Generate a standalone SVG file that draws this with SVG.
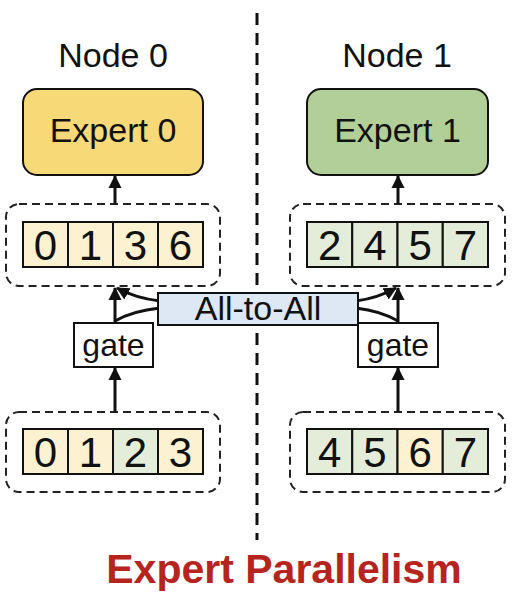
<svg xmlns="http://www.w3.org/2000/svg" width="512" height="603" viewBox="0 0 512 603">
<style>
text{font-family:"Liberation Sans",Arial,sans-serif;fill:#111;text-anchor:middle}
.lbl{font-size:34px}
.dig{font-size:42px}
.gate{font-size:32px}
.cell{stroke:#111;stroke-width:2}
.y{fill:#FCF2D2}
.g{fill:#E4EDD9}
.dash{fill:none;stroke:#222;stroke-width:2;stroke-dasharray:8 5}
.arr{fill:none;stroke:#111;stroke-width:3;marker-end:url(#ah)}
.ln{fill:none;stroke:#111;stroke-width:3}
</style>
<defs>
<marker id="ah" markerUnits="userSpaceOnUse" markerWidth="14" markerHeight="14" viewBox="0 0 14 14" refX="12" refY="7" orient="auto">
<path d="M0,0.5 L13,7 L0,13.5 Z" fill="#111"/>
</marker>
</defs>
<line x1="257" y1="13" x2="257" y2="540" stroke="#111" stroke-width="3" stroke-dasharray="12 8"/>
<g id="title0"><text class="lbl" x="113" y="67">Node 0</text></g>
<g id="title1"><text class="lbl" x="397" y="67">Node 1</text></g>
<g id="expert0"><rect x="23" y="89" width="180" height="86" rx="14" fill="#F8D978" stroke="#111" stroke-width="2"/><text class="lbl" x="113" y="142">Expert 0</text></g>
<g id="expert1"><rect x="307" y="89" width="181" height="86" rx="14" fill="#B2CF98" stroke="#111" stroke-width="2"/><text class="lbl" x="397.5" y="142">Expert 1</text></g>
<g id="recv0">
<rect class="dash" x="6" y="204" width="214" height="82" rx="13"/>
<rect class="cell y" x="23" y="222" width="45" height="45"/><text class="dig" x="45.5" y="259.5">0</text>
<rect class="cell y" x="68" y="222" width="45" height="45"/><text class="dig" x="90.5" y="259.5">1</text>
<rect class="cell y" x="113" y="222" width="45" height="45"/><text class="dig" x="135.5" y="259.5">3</text>
<rect class="cell y" x="158" y="222" width="45" height="45"/><text class="dig" x="180.5" y="259.5">6</text>
</g>
<g id="recv1">
<rect class="dash" x="290" y="204" width="215" height="82" rx="13"/>
<rect class="cell g" x="307" y="222" width="45.25" height="45"/><text class="dig" x="329.6" y="259.5">2</text>
<rect class="cell g" x="352.25" y="222" width="45.25" height="45"/><text class="dig" x="374.9" y="259.5">4</text>
<rect class="cell g" x="397.5" y="222" width="45.25" height="45"/><text class="dig" x="420.1" y="259.5">5</text>
<rect class="cell g" x="442.75" y="222" width="45.25" height="45"/><text class="dig" x="465.4" y="259.5">7</text>
</g>
<g id="input0">
<rect class="dash" x="6" y="412" width="214" height="80" rx="13"/>
<rect class="cell y" x="23" y="429" width="45" height="45"/><text class="dig" x="45.5" y="466.5">0</text>
<rect class="cell y" x="68" y="429" width="45" height="45"/><text class="dig" x="90.5" y="466.5">1</text>
<rect class="cell g" x="113" y="429" width="45" height="45"/><text class="dig" x="135.5" y="466.5">2</text>
<rect class="cell y" x="158" y="429" width="45" height="45"/><text class="dig" x="180.5" y="466.5">3</text>
</g>
<g id="input1">
<rect class="dash" x="290" y="412" width="215" height="80" rx="13"/>
<rect class="cell g" x="307" y="429" width="45.25" height="45"/><text class="dig" x="329.6" y="466.5">4</text>
<rect class="cell g" x="352.25" y="429" width="45.25" height="45"/><text class="dig" x="374.9" y="466.5">5</text>
<rect class="cell y" x="397.5" y="429" width="45.25" height="45"/><text class="dig" x="420.1" y="466.5">6</text>
<rect class="cell g" x="442.75" y="429" width="45.25" height="45"/><text class="dig" x="465.4" y="466.5">7</text>
</g>
<g id="connectors">
<path class="arr" d="M115,204 V176"/>
<path class="arr" d="M398,204 V176"/>
<path class="arr" d="M115,323 V288"/>
<path class="arr" d="M398,323 V288"/>
<path class="arr" d="M115,412 V368"/>
<path class="arr" d="M398,412 V368"/>
<path class="ln" d="M115,321 Q132,311 160,308"/>
<path class="arr" d="M160,301 Q135,298 117,288"/>
<path class="ln" d="M398,321 Q381,311 356,308"/>
<path class="arr" d="M356,301 Q378,298 396,288"/>
</g>
<g id="gate0"><rect x="74" y="323" width="79" height="44" fill="#fff" stroke="#111" stroke-width="2"/><text class="gate" x="113.5" y="356">gate</text></g>
<g id="gate1"><rect x="358" y="323" width="80" height="44" fill="#fff" stroke="#111" stroke-width="2"/><text class="gate" x="398" y="356">gate</text></g>
<g id="alltoall"><rect x="158" y="293" width="200" height="32" fill="#DEE8F4" stroke="#111" stroke-width="2"/><text class="lbl" x="258" y="320">All-to-All</text></g>
<text x="284" y="583" style="font-size:41px;font-weight:bold;fill:#B5251D">Expert Parallelism</text>
</svg>
